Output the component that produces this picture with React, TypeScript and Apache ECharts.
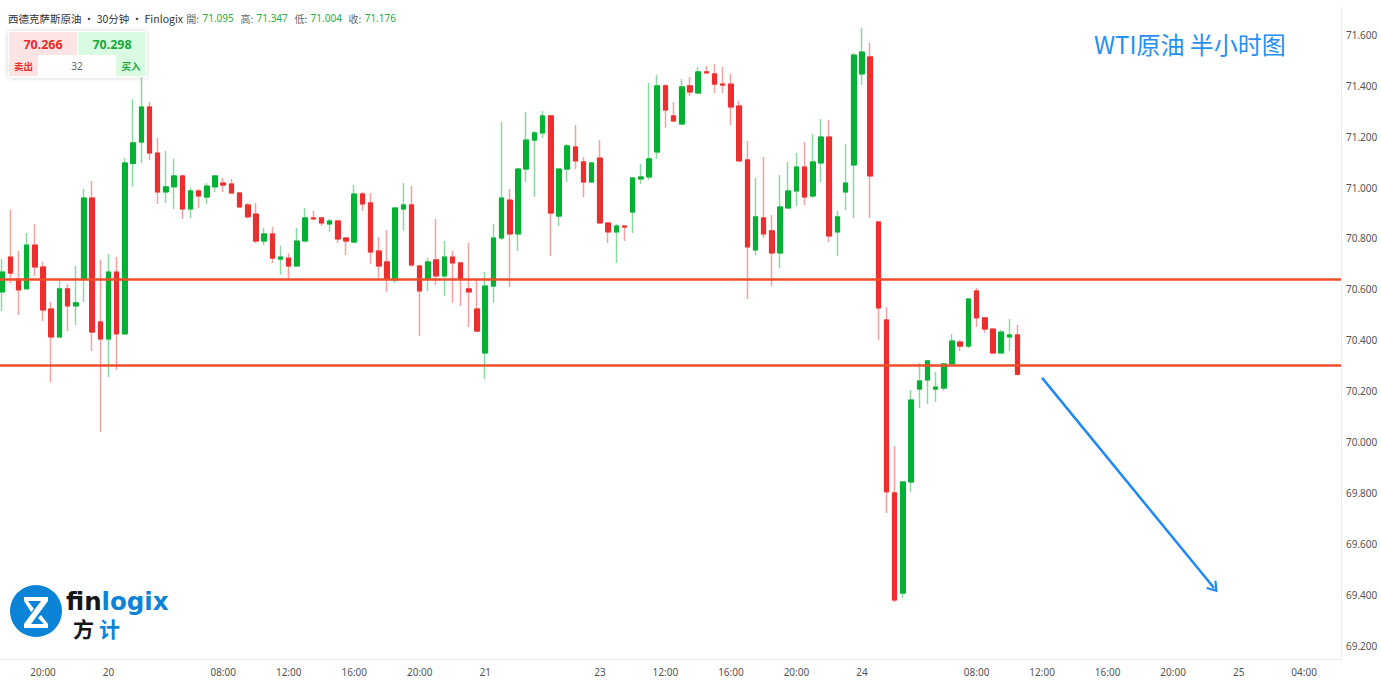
import React, { useEffect, useRef } from "react";
import * as echarts from "echarts";

// ---- data: [open, high, low, close] per 30-minute candle ----
const day19: number[][] = [
  [70.59, 70.719, 70.515, 70.668],
  [70.727, 70.912, 70.625, 70.664],
  [70.641, 70.751, 70.499, 70.598],
  [70.602, 70.822, 70.6, 70.774],
  [70.774, 70.857, 70.653, 70.688],
  [70.688, 70.708, 70.476, 70.519],
  [70.523, 70.55, 70.236, 70.413],
  [70.413, 70.637, 70.41, 70.602],
  [70.602, 70.621, 70.436, 70.535],
  [70.535, 70.692, 70.46, 70.547],
  [70.641, 70.995, 70.55, 70.959],
  [70.959, 71.026, 70.358, 70.432],
  [70.472, 70.716, 70.039, 70.405],
];
const day20: number[][] = [
  [70.405, 70.739, 70.256, 70.668],
  [70.668, 70.727, 70.283, 70.425],
  [70.425, 71.116, 70.425, 71.097],
  [71.095, 71.347, 71.004, 71.176],
  [71.179, 71.435, 71.097, 71.317],
  [71.317, 71.337, 71.109, 71.136],
  [71.136, 71.195, 70.936, 70.983],
  [70.983, 71.144, 70.94, 71.003],
  [71.003, 71.113, 70.916, 71.046],
  [71.046, 71.05, 70.877, 70.916],
  [70.916, 70.999, 70.881, 70.987],
  [70.987, 70.995, 70.92, 70.967],
  [70.963, 71.018, 70.936, 71.006],
  [71.003, 71.05, 70.983, 71.046],
  [71.018, 71.038, 70.983, 71.01],
  [71.014, 71.034, 70.975, 70.979],
  [70.979, 70.983, 70.92, 70.924],
  [70.932, 70.94, 70.88, 70.885],
  [70.896, 70.94, 70.782, 70.79],
  [70.79, 70.841, 70.774, 70.818],
  [70.818, 70.845, 70.704, 70.723],
  [70.719, 70.771, 70.657, 70.727],
  [70.723, 70.743, 70.637, 70.692],
  [70.692, 70.841, 70.69, 70.79],
  [70.79, 70.92, 70.788, 70.881],
  [70.881, 70.908, 70.873, 70.877],
  [70.881, 70.883, 70.849, 70.861],
  [70.857, 70.877, 70.826, 70.869],
  [70.869, 70.871, 70.782, 70.798],
  [70.802, 70.806, 70.735, 70.79],
  [70.786, 71.01, 70.782, 70.975],
  [70.975, 70.983, 70.908, 70.936],
  [70.94, 70.979, 70.7, 70.747],
  [70.751, 70.806, 70.645, 70.692],
  [70.708, 70.833, 70.59, 70.641],
  [70.637, 70.922, 70.625, 70.92],
  [70.916, 71.018, 70.83, 70.932],
  [70.932, 71.006, 70.688, 70.696],
  [70.692, 70.696, 70.417, 70.594],
  [70.641, 70.723, 70.594, 70.708],
  [70.716, 70.877, 70.617, 70.653],
  [70.653, 70.79, 70.574, 70.727],
  [70.727, 70.751, 70.547, 70.704],
  [70.704, 70.708, 70.535, 70.641],
  [70.602, 70.782, 70.452, 70.59],
  [70.523, 70.633, 70.432, 70.436],
];
const day21: number[][] = [
  [70.35, 70.668, 70.248, 70.613],
  [70.613, 70.857, 70.547, 70.802],
  [70.802, 71.258, 70.794, 70.959],
  [70.951, 70.995, 70.609, 70.818],
  [70.818, 71.077, 70.751, 71.073],
  [71.073, 71.297, 71.022, 71.187],
  [71.187, 71.223, 70.963, 71.215],
  [71.215, 71.301, 71.195, 71.282],
  [71.282, 71.285, 70.731, 70.9],
  [70.888, 71.075, 70.849, 71.073],
];
const day23: number[][] = [
  [71.073, 71.172, 71.022, 71.164],
  [71.16, 71.246, 71.073, 71.105],
  [71.101, 71.12, 70.963, 71.022],
  [71.022, 71.099, 71.02, 71.097],
  [71.116, 71.187, 70.859, 70.861],
  [70.861, 70.863, 70.782, 70.826],
  [70.826, 70.857, 70.704, 70.849],
  [70.849, 70.851, 70.79, 70.845],
  [70.904, 71.04, 70.822, 71.038],
  [71.034, 71.093, 71.014, 71.042],
  [71.042, 71.411, 71.03, 71.113],
  [71.14, 71.443, 71.113, 71.4],
  [71.4, 71.407, 71.234, 71.305],
  [71.282, 71.337, 71.258, 71.262],
  [71.25, 71.427, 71.246, 71.396],
  [71.4, 71.435, 71.36, 71.376],
  [71.372, 71.474, 71.37, 71.455],
  [71.455, 71.478, 71.449, 71.451],
  [71.447, 71.486, 71.372, 71.407],
  [71.407, 71.474, 71.372, 71.403],
  [71.407, 71.447, 71.246, 71.317],
  [71.321, 71.341, 71.101, 71.105],
  [71.109, 71.183, 70.562, 70.767],
  [70.755, 71.038, 70.735, 70.885],
  [70.881, 71.12, 70.802, 70.818],
  [70.83, 70.892, 70.613, 70.743],
  [70.743, 71.05, 70.684, 70.924],
  [70.92, 71.101, 70.918, 70.987],
  [70.987, 71.136, 70.928, 71.081],
  [71.081, 71.179, 70.932, 70.963],
  [70.967, 71.211, 70.959, 71.101],
  [71.097, 71.27, 71.022, 71.199],
  [71.199, 71.266, 70.786, 70.81],
  [70.826, 70.908, 70.731, 70.885],
  [70.983, 71.172, 70.912, 71.018],
  [71.089, 71.529, 70.881, 71.521],
];
const day24: number[][] = [
  [71.447, 71.628, 71.403, 71.533],
  [71.514, 71.569, 70.881, 71.046],
  [70.865, 70.867, 70.401, 70.527],
  [70.48, 70.531, 69.721, 69.804],
  [69.8, 69.984, 69.371, 69.379],
  [69.406, 69.845, 69.387, 69.843],
  [69.843, 70.204, 69.804, 70.165],
  [70.208, 70.311, 70.134, 70.24],
  [70.244, 70.321, 70.149, 70.319],
  [70.208, 70.275, 70.157, 70.216],
  [70.212, 70.311, 70.201, 70.307],
  [70.307, 70.425, 70.305, 70.397],
  [70.393, 70.401, 70.358, 70.377],
  [70.377, 70.564, 70.37, 70.562],
  [70.594, 70.605, 70.452, 70.488],
  [70.488, 70.49, 70.429, 70.444],
  [70.444, 70.446, 70.348, 70.35],
  [70.35, 70.44, 70.348, 70.432],
  [70.413, 70.484, 70.358, 70.421],
  [70.421, 70.46, 70.261, 70.266],
];

const supportResistance = [70.637, 70.299];
const bidPrice = 70.266;
const askPrice = 70.298;
const headerCandleIndex = 16;
const yTicks = [69.2, 69.4, 69.6, 69.8, 70.0, 70.2, 70.4, 70.6, 70.8, 71.0, 71.2, 71.4, 71.6];
const yMin = 69.147;
const yMax = 71.71;
const xTickLabels: [string, string][] = [
  ["19 20:00", "20:00"],
  ["20 00:00", "20"],
  ["20 08:00", "08:00"],
  ["20 12:00", "12:00"],
  ["20 16:00", "16:00"],
  ["20 20:00", "20:00"],
  ["21 00:00", "21"],
  ["23 08:00", "23"],
  ["23 12:00", "12:00"],
  ["23 16:00", "16:00"],
  ["23 20:00", "20:00"],
  ["24 00:00", "24"],
  ["24 08:00", "08:00"],
  ["24 12:00", "12:00"],
  ["24 16:00", "16:00"],
  ["24 20:00", "20:00"],
  ["25 00:00", "25"],
  ["25 04:00", "04:00"],
];
const arrowStart: [string, number] = ["24 12:00", 70.252];
const arrowEnd: [string, number] = ["24 22:30", 69.426];
const slotCount = 164;

const pad = (n: number) => (n < 10 ? "0" + n : "" + n);

// trading-session timeline (30-min slots, daily break 05:00-06:00, weekend closed)
function buildTimeline(count: number): string[] {
  const out: string[] = [];
  let day = 19;
  let min = 17 * 60 + 30;
  while (out.length < count) {
    const hh = Math.floor(min / 60);
    const mm = min % 60;
    const inBreak = hh === 5;
    const weekend = (day === 21 && hh >= 5) || day === 22 || (day === 23 && hh < 6);
    if (!inBreak && !weekend) out.push(`${day} ${pad(hh)}:${pad(mm)}`);
    min += 30;
    if (min >= 1440) {
      min = 0;
      day++;
    }
  }
  return out;
}

const UP = "#05b134";
const DOWN = "#eb2e2e";
const UP_WICK = "#8ad9a0";
const DOWN_WICK = "#f4a1a1";
const LOGO_BLUE = "#0b84d8";
const FONT = "'Noto Sans', 'Noto Sans CJK SC', sans-serif";
const CJK = "'Noto Sans CJK SC', 'Noto Sans', sans-serif";
const SHIFT = 2; // chart canvas starts slightly left of the page edge

export default function App() {
  const ref = useRef<HTMLDivElement>(null);

  useEffect(() => {
    if (!ref.current) return;
    const chart = echarts.init(ref.current, undefined, { renderer: "svg" });
    const candles = [...day19, ...day20, ...day21, ...day23, ...day24];
    const timeline = buildTimeline(slotCount);
    const tickMap = new Map(xTickLabels);

    // ECharts order: [open, close, lowest, highest]
    const wickData = candles.map(([o, h, l, c]) => [o, c, l, h]);
    const bodyData = candles.map(([o, , , c]) => [o, c, Math.min(o, c), Math.max(o, c)]);

    const hc = candles[headerCandleIndex];
    const f3 = (v: number) => v.toFixed(3);
    const X = (x: number) => x + SHIFT;

    const option: any = {
      animation: false,
      textStyle: { fontFamily: FONT },
      grid: { left: 0, right: 40, top: 7, bottom: 25 },
      xAxis: {
        type: "category",
        data: timeline,
        boundaryGap: true,
        axisLine: { show: true, lineStyle: { color: "#ececec", width: 1 } },
        axisTick: { show: false },
        splitLine: { show: false },
        axisLabel: {
          interval: (_i: number, v: string) => tickMap.has(v),
          formatter: (v: string) => tickMap.get(v) ?? "",
          color: "#555",
          fontSize: 10,
          margin: 8,
          hideOverlap: false,
        },
      },
      yAxis: {
        type: "value",
        position: "right",
        min: yMin,
        max: yMax,
        splitLine: { show: false },
        axisLine: { show: true, lineStyle: { color: "#ececec", width: 1 } },
        axisTick: { show: false, customValues: yTicks },
        axisLabel: {
          customValues: yTicks,
          formatter: (v: number) => v.toFixed(3),
          color: "#555",
          fontSize: 10,
          margin: 5,
        },
      },
      series: [
        {
          type: "candlestick",
          data: wickData,
          barWidth: 4.5,
          clip: false,
          silent: true,
          itemStyle: {
            color: UP_WICK,
            color0: DOWN_WICK,
            borderColor: UP_WICK,
            borderColor0: DOWN_WICK,
            borderWidth: 1.5,
          },
        },
        {
          type: "candlestick",
          data: bodyData,
          barWidth: 5,
          clip: false,
          silent: true,
          itemStyle: {
            color: UP,
            color0: DOWN,
            borderColor: UP,
            borderColor0: DOWN,
            borderWidth: 1,
          },
          markLine: {
            silent: true,
            symbol: ["none", "none"],
            label: { show: false },
            lineStyle: { color: "#ef4e2b", width: 2.5, type: "solid" },
            data: supportResistance.map((v) => ({ yAxis: v })),
          },
        },
        {
          type: "line",
          data: [],
          silent: true,
          markLine: {
            silent: true,
            symbol: ["none", "path://M10,0 L20,14 L17.6,16 L10,5.6 L2.4,16 L0,14 Z"],
            symbolSize: [13, 11],
            label: { show: false },
            lineStyle: { color: "#1e88f5", width: 2.5, type: "solid" },
            itemStyle: { color: "#1e88f5" },
            data: [[{ coord: arrowStart }, { coord: arrowEnd }]],
          },
        },
      ],
      graphic: [
        // title
        {
          type: "text",
          x: X(1094),
          y: 31,
          style: {
            text: "WTI原油 半小时图",
            fill: "#2490f2",
            font: `24px ${CJK}`,
          },
        },
        // header line
        {
          type: "text",
          x: X(8),
          y: 18,
          style: {
            text: `{n|西德克萨斯原油 • 30分钟 • Finlogix} {k|開:} {v|${f3(hc[0])}}  {k|高:} {v|${f3(hc[1])}}  {k|低:} {v|${f3(hc[2])}}  {k|收:} {v|${f3(hc[3])}}`,
            verticalAlign: "middle",
            rich: {
              n: { fontSize: 10.5, fill: "#333", fontFamily: CJK },
              k: { fontSize: 10, fill: "#666", fontFamily: CJK },
              v: { fontSize: 10, fill: "#1fae46", fontFamily: FONT },
            },
          },
        },
        // bid/ask box
        {
          type: "rect",
          shape: { x: X(8), y: 31, width: 139, height: 47, r: 3 },
          style: { fill: "#fff", shadowBlur: 5, shadowColor: "rgba(0,0,0,0.18)" },
        },
        { type: "rect", shape: { x: X(9), y: 32, width: 68, height: 23 }, style: { fill: "#fde4e4" } },
        { type: "rect", shape: { x: X(78), y: 32, width: 68, height: 23 }, style: { fill: "#d9fbe1" } },
        { type: "rect", shape: { x: X(9), y: 55, width: 29, height: 21 }, style: { fill: "#fde4e4" } },
        { type: "rect", shape: { x: X(116), y: 55, width: 30, height: 21 }, style: { fill: "#d9fbe1" } },
        {
          type: "text",
          x: X(43),
          y: 44,
          style: { text: f3(bidPrice), fill: "#ee2b2b", font: `bold 12.5px ${FONT}`, align: "center", verticalAlign: "middle" },
        },
        {
          type: "text",
          x: X(112),
          y: 44,
          style: { text: f3(askPrice), fill: "#17a93e", font: `bold 12.5px ${FONT}`, align: "center", verticalAlign: "middle" },
        },
        {
          type: "text",
          x: X(23.5),
          y: 66,
          style: { text: "卖出", fill: "#ee2b2b", font: `bold 9.5px ${CJK}`, align: "center", verticalAlign: "middle" },
        },
        {
          type: "text",
          x: X(77),
          y: 66,
          style: {
            text: String(Math.round((askPrice - bidPrice) * 1000)),
            fill: "#666",
            font: `10px ${FONT}`,
            align: "center",
            verticalAlign: "middle",
          },
        },
        {
          type: "text",
          x: X(131),
          y: 66,
          style: { text: "买入", fill: "#17a93e", font: `bold 9.5px ${CJK}`, align: "center", verticalAlign: "middle" },
        },
        // logo
        {
          type: "circle",
          shape: { cx: X(36), cy: 611, r: 26 },
          style: { fill: LOGO_BLUE },
        },
        {
          type: "polygon",
          shape: {
            points: [
              [X(24), 597],
              [X(48), 597],
              [X(48), 601],
              [X(31), 624],
              [X(48), 624],
              [X(48), 628],
              [X(24), 628],
              [X(24), 624],
              [X(41), 601],
              [X(28), 601],
              [X(34), 609],
              [X(31), 612],
              [X(24), 601],
            ],
          },
          style: { fill: "#fff" },
        },
        {
          type: "polygon",
          shape: {
            points: [
              [X(48), 624],
              [X(41), 615],
              [X(38), 618],
              [X(44), 624],
            ],
          },
          style: { fill: "#fff" },
        },
        {
          type: "text",
          x: X(66),
          y: 601,
          style: {
            text: "{a|fin}{b|logix}",
            verticalAlign: "middle",
            rich: {
              a: { fontSize: 24.5, fontWeight: "bold", fill: "#161616", fontFamily: "'DejaVu Sans', sans-serif" },
              b: { fontSize: 24.5, fontWeight: "bold", fill: LOGO_BLUE, fontFamily: "'DejaVu Sans', sans-serif" },
            },
          },
        },
        {
          type: "text",
          x: X(73),
          y: 628,
          style: { text: "方", fill: "#161616", font: `bold 21px ${CJK}`, verticalAlign: "middle" },
        },
        {
          type: "text",
          x: X(99),
          y: 628,
          style: { text: "计", fill: LOGO_BLUE, font: `bold 21px ${CJK}`, verticalAlign: "middle" },
        },
      ],
    };

    chart.setOption(option);
    return () => chart.dispose();
  }, []);

  return (
    <div
      ref={ref}
      style={{
        position: "fixed",
        left: -SHIFT,
        top: 0,
        width: 1381 + SHIFT,
        height: 684,
        background: "#fff",
      }}
    />
  );
}
